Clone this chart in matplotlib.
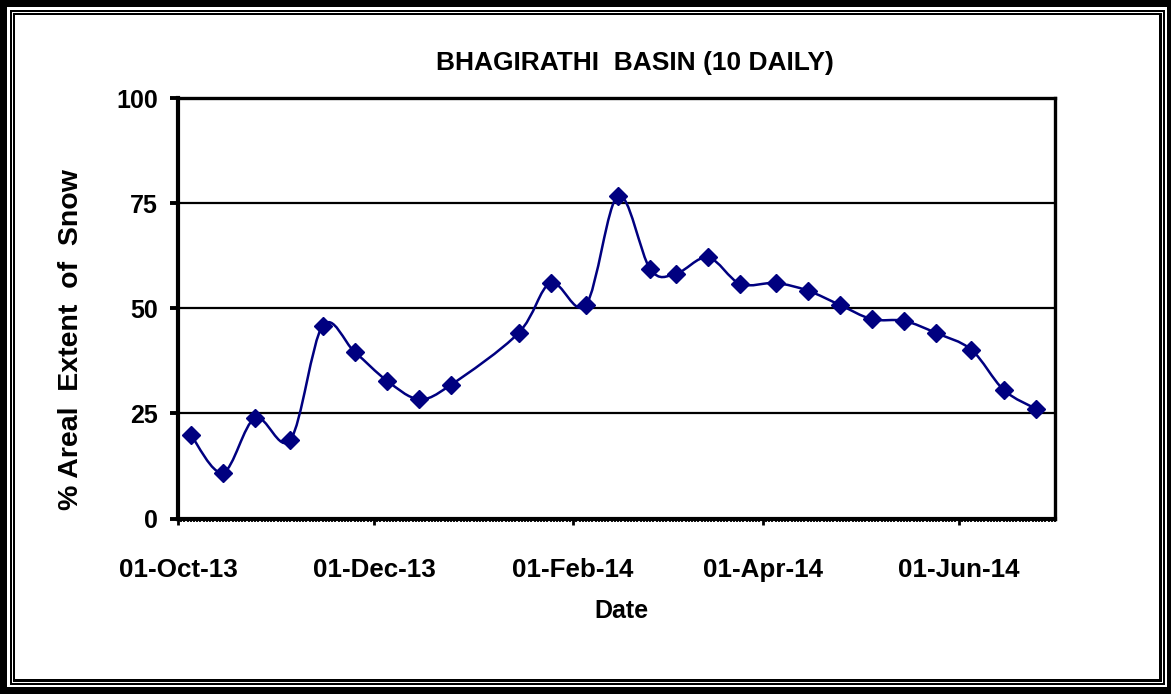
import matplotlib
matplotlib.use("Agg")
import matplotlib.pyplot as plt
import matplotlib.dates as mdates
import numpy as np
from matplotlib.patches import Rectangle
from matplotlib.path import Path
from matplotlib.patches import PathPatch
from datetime import date

plt.rcParams['font.family'] = ['Liberation Sans', 'DejaVu Sans']
plt.rcParams['font.weight'] = 'bold'

# 10-daily snow cover, plotted at the middle of each period
dates = ["2013-10-05", "2013-10-15", "2013-10-25", "2013-11-05", "2013-11-15",
         "2013-11-25", "2013-12-05", "2013-12-15", "2013-12-25", "2014-01-15",
         "2014-01-25", "2014-02-05", "2014-02-15", "2014-02-25", "2014-03-05",
         "2014-03-15", "2014-03-25", "2014-04-05", "2014-04-15", "2014-04-25",
         "2014-05-05", "2014-05-15", "2014-05-25", "2014-06-05", "2014-06-15",
         "2014-06-25"]
snow = [19.9, 10.9, 23.9, 18.7, 45.8, 39.6, 32.8, 28.4, 31.8, 44.1,
        56.0, 50.8, 76.8, 59.3, 58.2, 62.1, 55.8, 56.0, 54.2, 50.8,
        47.4, 47.0, 44.1, 40.1, 30.6, 26.1]
yticks = [0, 25, 50, 75, 100]

W, H = 1171, 694
fig = plt.figure(figsize=(W / 100, H / 100), dpi=100, facecolor='black')

# triple-line page border: (colour, left, top, right, bottom) insets in px
border = [('white', 7, 7, 4.3, 7), ('black', 10, 10, 6, 9),
          ('white', 12, 12, 8, 11), ('black', 13.3, 13.3, 9.5, 12.5),
          ('white', 15.3, 15.3, 12, 15)]
for col, l, t, r, b in border:
    fig.add_artist(Rectangle((l / W, b / H), (W - l - r) / W, (H - t - b) / H,
                             transform=fig.transFigure, facecolor=col,
                             edgecolor='none', zorder=-10))

ax = fig.add_axes([178 / W, (H - 518.5) / H, (1055 - 178) / W, (518.5 - 98) / H])
ax.set_facecolor('white')

x = mdates.date2num([date.fromisoformat(d) for d in dates])
y = np.array(snow)

# smoothed line: cubic Bezier segments with Catmull-Rom control points
pts = np.column_stack([x, y])
verts = [pts[0]]
codes = [Path.MOVETO]
n = len(pts)
for i in range(n - 1):
    p0 = pts[max(i - 1, 0)]
    p1 = pts[i]
    p2 = pts[i + 1]
    p3 = pts[min(i + 2, n - 1)]
    verts += [p1 + (p2 - p0) / 6, p2 - (p3 - p1) / 6, p2]
    codes += [Path.CURVE4] * 3
ax.add_patch(PathPatch(Path(verts, codes), facecolor='none',
                       edgecolor='#000080', lw=1.8, zorder=3))
ax.plot(x, y, linestyle='none', marker='D', markersize=9.5,
        color='#000080', zorder=4)

ax.set_xlim(mdates.date2num(date(2013, 10, 1)), mdates.date2num(date(2014, 7, 1)))
ax.set_ylim(0, 100)
ax.set_yticks(yticks)
ax.yaxis.grid(True, color='black', lw=1.6)
ax.set_axisbelow(True)

ax.xaxis.set_major_locator(mdates.MonthLocator(bymonth=[10, 12, 2, 4, 6]))
ax.xaxis.set_major_formatter(mdates.DateFormatter('%d-%b-%y'))
ax.xaxis.set_minor_locator(mdates.DayLocator())

for side in ['left', 'bottom']:
    ax.spines[side].set_linewidth(3.0)
for side in ['top', 'right']:
    ax.spines[side].set_linewidth(2.4)

ax.tick_params(axis='y', which='major', direction='out', length=5.5, width=2.8,
               labelsize=18, pad=9)
ax.tick_params(axis='x', which='major', direction='out', length=4.5, width=2.0,
               labelsize=18.7, pad=24)
ax.tick_params(axis='x', which='minor', direction='out', length=2.5, width=1.3)

ax.set_xlabel('Date', fontsize=18, fontweight='bold')
ax.xaxis.set_label_coords(0.506, -0.192)
ax.set_ylabel('% Areal  Extent  of  Snow', fontsize=20.5, fontweight='bold')
ax.yaxis.set_label_coords(-0.107, 0.425)

fig.text(635 / W, 1 - 63 / H, 'BHAGIRATHI  BASIN (10 DAILY)', ha='center',
         va='center', fontsize=19, fontweight='bold')

fig.savefig('out.png', dpi=100, facecolor=fig.get_facecolor())
